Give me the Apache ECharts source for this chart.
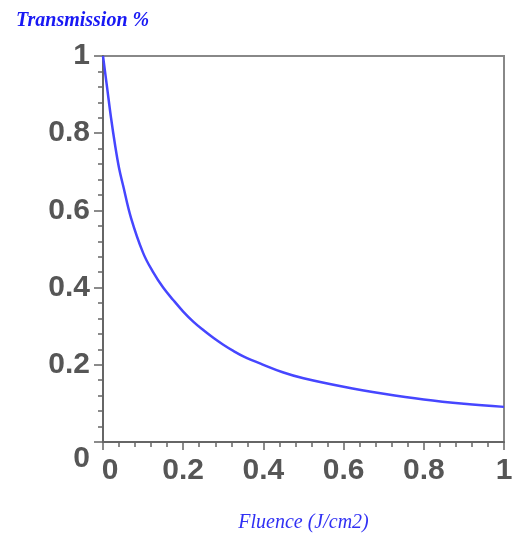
<!DOCTYPE html>
<html>
<head>
<meta charset="utf-8">
<script src="https://cdn.jsdelivr.net/npm/echarts@6/dist/echarts.min.js"></script>
<style>
  html, body { margin: 0; padding: 0; background: #fff; }
  #main { width: 519px; height: 540px; }
</style>
</head>
<body>
<div id="main"></div>
<script>
// values
var fluence = [0, 0.01, 0.02, 0.03, 0.04, 0.05, 0.07, 0.1, 0.125, 0.15, 0.175, 0.2,
  0.225, 0.25, 0.275, 0.3, 0.325, 0.35, 0.4, 0.45, 0.5, 0.6, 0.7, 0.8, 0.9, 1.0];
var transmission = [1.0, 0.92, 0.84, 0.77, 0.71, 0.665, 0.58, 0.49, 0.44, 0.40, 0.368, 0.338,
  0.312, 0.29, 0.27, 0.252, 0.236, 0.222, 0.20, 0.18, 0.165, 0.143, 0.125, 0.11, 0.099, 0.091];
var xTicks = [0, 0.2, 0.4, 0.6, 0.8, 1];
var yTicks = [0, 0.2, 0.4, 0.6, 0.8, 1];

var points = fluence.map(function (f, i) { return [f, transmission[i]]; });

var labelFont = {
  fontFamily: '"Liberation Sans Narrow", "Liberation Sans", sans-serif',
  fontWeight: 'bold',
  fontSize: 30,
  color: '#565656'
};

var myChart = echarts.init(document.getElementById('main'));
myChart.setOption({
  animation: false,
  title: {
    text: 'Transmission %',
    left: 11,
    top: 6,
    textStyle: {
      fontFamily: '"Liberation Serif", serif',
      fontStyle: 'italic',
      fontWeight: 'bold',
      fontSize: 20,
      color: '#1818f4'
    }
  },
  grid: {
    left: 103, right: 15, top: 56, bottom: 98,
    show: true,
    borderColor: '#888',
    borderWidth: 2
  },
  xAxis: {
    type: 'value',
    min: 0, max: 1, interval: 0.2,
    name: 'Fluence (J/cm2)',
    nameLocation: 'middle',
    nameGap: 71,
    nameTextStyle: {
      fontFamily: '"Liberation Serif", serif',
      fontStyle: 'italic',
      fontSize: 20,
      color: '#3030f4'
    },
    axisLine: { lineStyle: { color: '#666', width: 2 } },
    axisTick: { show: true, length: 8, lineStyle: { color: '#666', width: 1.5 } },
    minorTick: { show: true, splitNumber: 5, length: 5, lineStyle: { color: '#666', width: 1.5 } },
    splitLine: { show: false },
    axisLabel: Object.assign({
      margin: 14,
      formatter: function (v) {
        if (xTicks.indexOf(+v.toFixed(1)) < 0) return '';
        return v === 0 ? '{z|0}' : String(+v.toFixed(1));
      },
      rich: { z: Object.assign({ padding: [0, 0, 0, 14] }, labelFont) }
    }, labelFont)
  },
  yAxis: {
    type: 'value',
    min: 0, max: 1, interval: 0.2,
    axisLine: { show: true, lineStyle: { color: '#666', width: 2 } },
    axisTick: { show: true, length: 9, lineStyle: { color: '#666', width: 1.5 } },
    minorTick: { show: true, splitNumber: 5, length: 5, lineStyle: { color: '#666', width: 1.5 } },
    splitLine: { show: false },
    axisLabel: Object.assign({
      margin: 13,
      formatter: function (v) {
        if (yTicks.indexOf(+v.toFixed(1)) < 0) return '';
        return v === 0 ? '{z|0}' : String(+v.toFixed(1));
      },
      rich: { z: Object.assign({ padding: [34, 0, 0, 0] }, labelFont) }
    }, labelFont)
  },
  series: [{
    type: 'line',
    data: points,
    smooth: 0.4,
    showSymbol: false,
    lineStyle: { color: '#4646ff', width: 2.5 }
  }]
});
</script>
</body>
</html>
